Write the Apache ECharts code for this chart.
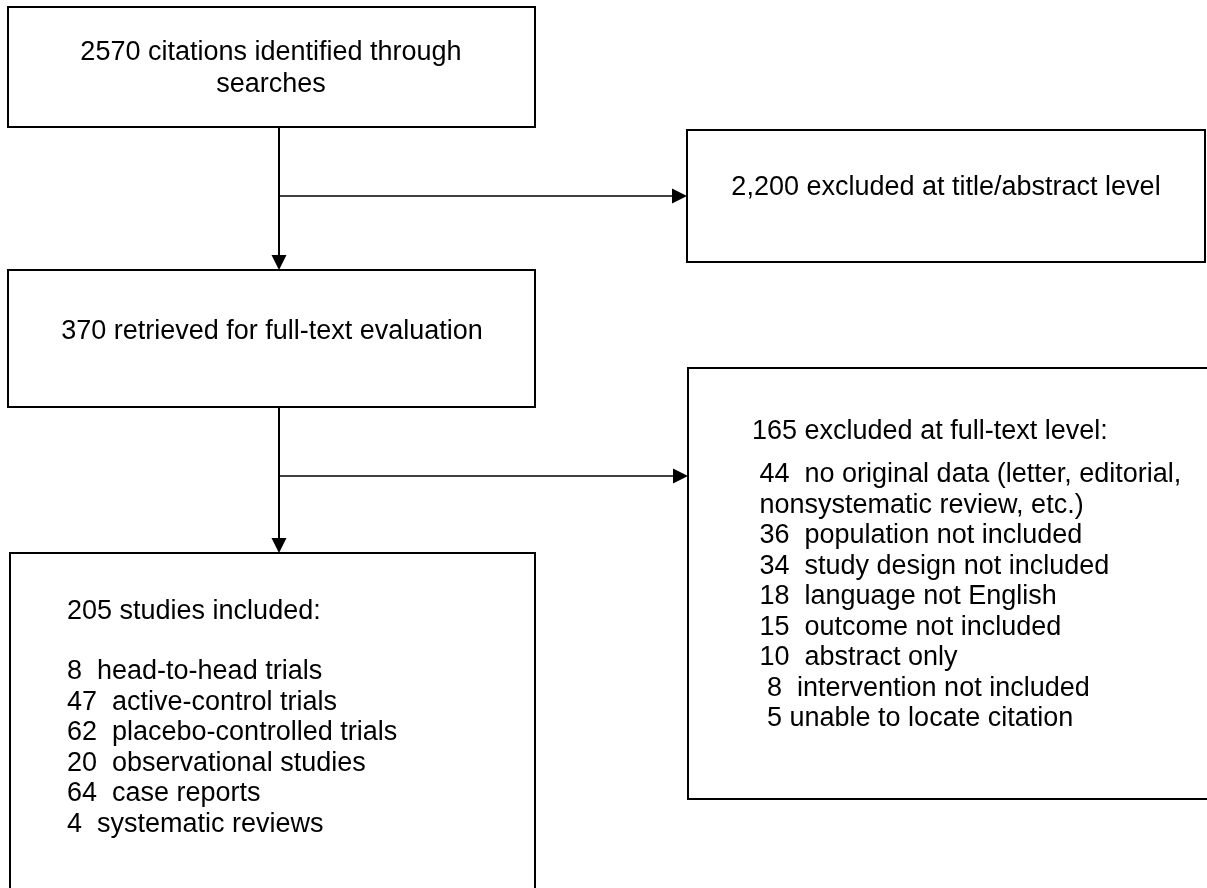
<!DOCTYPE html>
<html>
<head>
<meta charset="utf-8">
<script src="https://cdn.jsdelivr.net/npm/echarts@6/dist/echarts.min.js"></script>
<style>
  html, body { margin: 0; padding: 0; background: #ffffff; }
  #chart { width: 1207px; height: 888px; }
</style>
</head>
<body>
<div id="chart"></div>
<script>
// ---------------- DATA ----------------
const identifiedCount = 2570;
const titleExcludedCount = '2,200';
const retrievedCount = 370;
const fullTextExcludedCount = 165;
const includedCount = 205;

const excludedReasons = [
  'no original data (letter, editorial,',
  'population not included',
  'study design not included',
  'language not English',
  'outcome not included',
  'abstract only',
  'intervention not included',
  'unable to locate citation'
];
const excludedCounts = [44, 36, 34, 18, 15, 10, 8, 5];
const excludedContinuation = 'nonsystematic review, etc.)';

const includedTypes = [
  'head-to-head trials',
  'active-control trials',
  'placebo-controlled trials',
  'observational studies',
  'case reports',
  'systematic reviews'
];
const includedCounts = [8, 47, 62, 20, 64, 4];

// ---------------- LAYOUT (page-space units on a hidden 1207 x 888 value grid) ----------------
const W = 1207, H = 888;
const boxes = [
  { x0: 8,   y0: 7,   x1: 535,  y1: 127 },
  { x0: 687, y0: 130, x1: 1205, y1: 262 },
  { x0: 8,   y0: 270, x1: 535,  y1: 407 },
  { x0: 688, y0: 368, x1: 1225, y1: 799 },
  { x0: 10,  y0: 553, x1: 535,  y1: 905 }
];
const trunkX = 279;
const connectors = [
  { from: [trunkX, 127], to: [trunkX, 270], w: 2 },
  { from: [trunkX, 196], to: [687, 196], w: 1.5 },
  { from: [trunkX, 407], to: [trunkX, 553], w: 2 },
  { from: [trunkX, 476], to: [688, 476], w: 1.5 }
];
const FONT_SIZE = 27;
const FONT_FAMILY = '"Liberation Sans", Arial, sans-serif';

// text lines built from the data
const textItems = [];
textItems.push({ t: identifiedCount + ' citations identified through', x: 271, y: 53, a: 'center' });
textItems.push({ t: 'searches', x: 271, y: 85, a: 'center' });
textItems.push({ t: titleExcludedCount + ' excluded at title/abstract level', x: 946, y: 188, a: 'center' });
textItems.push({ t: retrievedCount + ' retrieved for full-text evaluation', x: 272, y: 332, a: 'center' });
textItems.push({ t: fullTextExcludedCount + ' excluded at full-text level:', x: 752, y: 432, a: 'left' });
const exLineY0 = 475, exStep = 30.5;
let row = 0;
excludedReasons.forEach(function (r, i) {
  const c = excludedCounts[i];
  const pad = c < 10 ? '  ' : ' ';
  const gap = i === excludedReasons.length - 1 ? ' ' : '  ';
  textItems.push({ t: pad + c + gap + r, x: 752, y: exLineY0 + row * exStep, a: 'left' });
  row++;
  if (i === 0) {
    textItems.push({ t: ' ' + excludedContinuation, x: 752, y: exLineY0 + row * exStep, a: 'left' });
    row++;
  }
});
textItems.push({ t: includedCount + ' studies included:', x: 67, y: 612, a: 'left' });
const inLineY0 = 672, inStep = 30.5;
includedTypes.forEach(function (tp, i) {
  textItems.push({ t: includedCounts[i] + '  ' + tp, x: 67, y: inLineY0 + i * inStep, a: 'left' });
});

// ---------------- CHART ----------------
const chart = echarts.init(document.getElementById('chart'), null, { renderer: 'canvas' });

function boxRender(params, api) {
  const b = boxes[params.dataIndex];
  const p0 = api.coord([b.x0, b.y0]);
  const p1 = api.coord([b.x1, b.y1]);
  return {
    type: 'rect',
    shape: { x: p0[0], y: p0[1], width: p1[0] - p0[0], height: p1[1] - p0[1] },
    style: { fill: '#ffffff', stroke: '#000000', lineWidth: 2 }
  };
}

function connectorRender(params, api) {
  const c = connectors[params.dataIndex];
  const a = api.coord(c.from);
  const b = api.coord(c.to);
  const dx = b[0] - a[0], dy = b[1] - a[1];
  const len = Math.sqrt(dx * dx + dy * dy);
  const ux = dx / len, uy = dy / len;
  const headLen = 15, headHalf = 7.5;
  const base = [b[0] - ux * headLen, b[1] - uy * headLen];
  const nx = -uy, ny = ux;
  return {
    type: 'group',
    children: [
      {
        type: 'line',
        shape: { x1: a[0], y1: a[1], x2: base[0], y2: base[1] },
        style: { stroke: '#000000', lineWidth: c.w }
      },
      {
        type: 'polygon',
        shape: { points: [
          [b[0], b[1]],
          [base[0] + nx * headHalf, base[1] + ny * headHalf],
          [base[0] - nx * headHalf, base[1] - ny * headHalf]
        ] },
        style: { fill: '#000000' }
      }
    ]
  };
}

function textRender(params, api) {
  const t = textItems[params.dataIndex];
  const p = api.coord([t.x, t.y]);
  return {
    type: 'text',
    x: p[0],
    y: p[1],
    style: {
      text: t.t,
      fill: '#000000',
      fontSize: FONT_SIZE,
      fontFamily: FONT_FAMILY,
      align: t.a,
      verticalAlign: 'middle'
    }
  };
}

chart.setOption({
  animation: false,
  backgroundColor: '#ffffff',
  grid: { left: 0, right: 0, top: 0, bottom: 0, containLabel: false },
  xAxis: { type: 'value', min: 0, max: W, show: false },
  yAxis: { type: 'value', min: 0, max: H, inverse: true, show: false },
  series: [
    {
      type: 'custom', clip: false, silent: true, z: 1,
      data: boxes.map(function (b) { return [(b.x0 + b.x1) / 2, (b.y0 + b.y1) / 2]; }),
      renderItem: boxRender
    },
    {
      type: 'custom', clip: false, silent: true, z: 2,
      data: connectors.map(function (c) { return [c.to[0], c.to[1]]; }),
      renderItem: connectorRender
    },
    {
      type: 'custom', clip: false, silent: true, z: 3,
      data: textItems.map(function (t) { return [t.x, t.y]; }),
      renderItem: textRender
    }
  ]
});
</script>
</body>
</html>
